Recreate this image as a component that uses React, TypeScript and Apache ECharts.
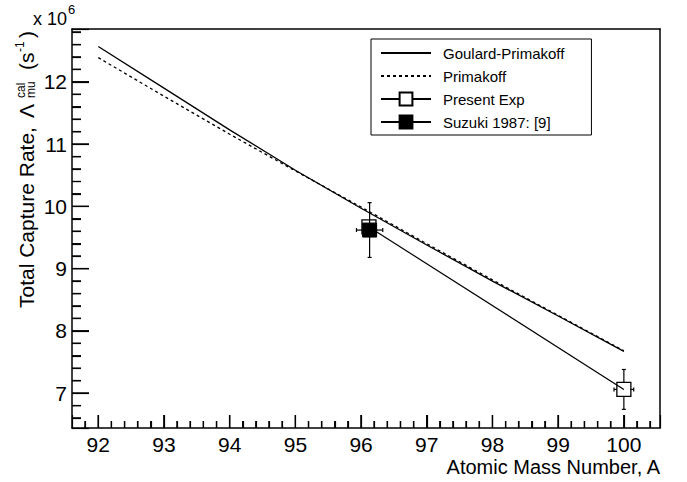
import React, { useEffect, useRef } from "react";
import * as echarts from "echarts";

const massNumbers = [92, 93, 94, 95, 96, 97, 98, 99, 100];
const goulardPrimakoff = [12.57, 11.9, 11.23, 10.58, 9.97, 9.38, 8.8, 8.24, 7.67];
const primakoff = [12.39, 11.77, 11.16, 10.57, 9.99, 9.4, 8.82, 8.25, 7.68];

const presentExpA = [96.12, 100];
const presentExpRate = [9.67, 7.06];
const presentExpErrA = [0, 0.15];
const presentExpErrRate = [0, 0.32];

const suzukiA = [96.13];
const suzukiRate = [9.62];
const suzukiErrA = [0.2];
const suzukiErrRate = [0.44];

const xMin = 91.6;
const xMax = 100.55;
const yMin = 6.44;
const yMax = 12.85;
const xMajorTicks = [91, 92, 93, 94, 95, 96, 97, 98, 99, 100, 101];
const yMajorTicks = [6, 7, 8, 9, 10, 11, 12, 13];
const minorDivisions = 5;

const FONT = "'Liberation Sans', Arial, Helvetica, sans-serif";
const MARK = 14;
const GRID = { left: 72, top: 29, right: 27, bottom: 54 };
const W = 687;
const H = 482;

const isInt = (v: number) => Math.abs(v - Math.round(v)) < 1e-6;

export default function App() {
  const ref = useRef<HTMLDivElement>(null);

  useEffect(() => {
    if (!ref.current) return;
    const chart = echarts.init(ref.current, null, { renderer: "svg" });

    const gpData = massNumbers.map((a, i) => [a, goulardPrimakoff[i]]);
    const pData = massNumbers.map((a, i) => [a, primakoff[i]]);
    const expData = presentExpA.map((a, i) => [a, presentExpRate[i]]);
    const suzData = suzukiA.map((a, i) => [a, suzukiRate[i]]);

    const errData = [
      ...presentExpA.map((a, i) => [a, presentExpRate[i], presentExpErrA[i], presentExpErrRate[i]]),
      ...suzukiA.map((a, i) => [a, suzukiRate[i], suzukiErrA[i], suzukiErrRate[i]]),
    ].filter((d) => d[2] > 0 || d[3] > 0);

    const tickList = (majors: number[], lo: number, hi: number) => {
      const out: { v: number; major: boolean }[] = [];
      majors.forEach((m) => {
        for (let k = 0; k < minorDivisions; k++) {
          const v = m + k / minorDivisions;
          if (v > lo + 1e-6 && v < hi - 1e-6) out.push({ v, major: k === 0 });
        }
      });
      return out;
    };
    const xTicks = tickList(xMajorTicks, xMin, xMax);
    const yTicks = tickList(yMajorTicks, yMin, yMax);

    const plotW = W - GRID.left - GRID.right;
    const plotH = H - GRID.top - GRID.bottom;
    const yPerPx = (yMax - yMin) / plotH;
    const xPerPx = (xMax - xMin) / plotW;

    const xTickSegs: any[] = [];
    xTicks.forEach((t) => {
      const len = (t.major ? 13 : 7) * yPerPx;
      xTickSegs.push([t.v, yMin], [t.v, yMin + len], [t.v, "-"]);
    });
    const yTickSegs: any[] = [];
    yTicks.forEach((t) => {
      const len = (t.major ? 17 : 9) * xPerPx;
      yTickSegs.push([xMin, t.v], [xMin + len, t.v], ["-", t.v]);
    });

    const half = MARK / 2;
    const cap = 2;

    const frameAxisCommon = {
      axisTick: { show: false },
      minorTick: { show: false },
      axisLabel: { show: false },
      splitLine: { show: false },
      minorSplitLine: { show: false },
      axisLine: { show: true, onZero: false, lineStyle: { color: "#000", width: 1.5 } },
    };

    const titleGraphics: any[] = [
      {
        type: "text",
        x: 33,
        y: 19,
        style: { text: "x 10", fontSize: 18, fontFamily: FONT, fill: "#000", verticalAlign: "middle", align: "left" },
      },
      {
        type: "text",
        x: 68,
        y: 9,
        style: { text: "6", fontSize: 13, fontFamily: FONT, fill: "#000", verticalAlign: "middle", align: "left" },
      },
      {
        type: "text",
        x: 660,
        y: 467,
        style: {
          text: "Atomic Mass Number, A",
          fontSize: 20,
          fontFamily: FONT,
          fill: "#000",
          verticalAlign: "middle",
          align: "right",
        },
      },
      {
        type: "group",
        x: 26,
        y: 308,
        rotation: Math.PI / 2,
        children: [
          { type: "text", x: 0, y: 0, style: { text: "Total Capture Rate,", fontSize: 21, fontFamily: FONT, fill: "#000", verticalAlign: "middle", align: "left" } },
          { type: "text", x: 190, y: 0, style: { text: "Λ", fontSize: 21, fontFamily: FONT, fill: "#000", verticalAlign: "middle", align: "left" } },
          { type: "text", x: 210, y: -5, style: { text: "cal", fontSize: 12, fontFamily: FONT, fill: "#000", verticalAlign: "middle", align: "left" } },
          { type: "text", x: 210, y: 5, style: { text: "mu", fontSize: 12, fontFamily: FONT, fill: "#000", verticalAlign: "middle", align: "left" } },
          { type: "text", x: 238, y: 0, style: { text: "(s", fontSize: 21, fontFamily: FONT, fill: "#000", verticalAlign: "middle", align: "left" } },
          { type: "text", x: 256, y: -6, style: { text: "-1", fontSize: 12, fontFamily: FONT, fill: "#000", verticalAlign: "middle", align: "left" } },
          { type: "text", x: 270, y: 0, style: { text: ")", fontSize: 21, fontFamily: FONT, fill: "#000", verticalAlign: "middle", align: "left" } },
        ],
      },
    ];

    const option: any = {
      animation: false,
      backgroundColor: "#fff",
      textStyle: { fontFamily: FONT },
      grid: { ...GRID, show: false },
      xAxis: [
        {
          type: "value",
          min: xMin,
          max: xMax,
          minInterval: 1,
          maxInterval: 1,
          splitNumber: 9,
          axisLine: { show: true, onZero: false, lineStyle: { color: "#000", width: 1.5 } },
          axisTick: { show: true, inside: true, length: 13, lineStyle: { color: "#000", width: 1.2 } },
          minorTick: { show: true, splitNumber: 5, length: 7, lineStyle: { color: "#000", width: 1.2 } },
          splitLine: { show: false },
          minorSplitLine: { show: false },
          axisLabel: {
            color: "#000",
            fontSize: 21,
            fontFamily: FONT,
            margin: 6,
            formatter: (v: number) => (isInt(v) ? String(Math.round(v)) : ""),
          },
        },
        { type: "value", position: "top", min: xMin, max: xMax, ...frameAxisCommon },
      ],
      yAxis: [
        {
          type: "value",
          min: yMin,
          max: yMax,
          minInterval: 1,
          maxInterval: 1,
          splitNumber: 6,
          axisLine: { show: true, onZero: false, lineStyle: { color: "#000", width: 1.5 } },
          axisTick: { show: true, inside: true, length: 17, lineStyle: { color: "#000", width: 1.2 } },
          minorTick: { show: true, splitNumber: 5, length: 9, lineStyle: { color: "#000", width: 1.2 } },
          splitLine: { show: false },
          minorSplitLine: { show: false },
          axisLabel: {
            color: "#000",
            fontSize: 21,
            fontFamily: FONT,
            margin: 5,
            formatter: (v: number) => (isInt(v) ? String(Math.round(v)) : ""),
          },
        },
        { type: "value", position: "right", min: yMin, max: yMax, ...frameAxisCommon },
      ],
      legend: {
        orient: "vertical",
        left: 371,
        top: 39,
        padding: [6, 27, 5, 9],
        itemWidth: 50,
        itemHeight: 16,
        itemGap: 7,
        borderColor: "#000",
        borderWidth: 1,
        backgroundColor: "#fff",
        textStyle: { color: "#000", fontSize: 15, fontFamily: FONT, lineHeight: 16, padding: [0, 0, 0, 7] },
        data: [
          { name: "Goulard-Primakoff", itemStyle: { color: "rgba(0,0,0,0)", borderWidth: 0 } },
          { name: "Primakoff", itemStyle: { color: "rgba(0,0,0,0)", borderWidth: 0 } },
          { name: "Present Exp", itemStyle: { color: "#fff" } },
          { name: "Suzuki 1987: [9]" },
        ],
      },
      series: [
        {
          name: "x-ticks",
          type: "line",
          data: xTickSegs,
          symbol: "none",
          connectNulls: false,
          clip: false,
          silent: true,
          lineStyle: { color: "#000", width: 1.2 },
          z: 5,
        },
        {
          name: "y-ticks",
          type: "line",
          data: yTickSegs,
          symbol: "none",
          connectNulls: false,
          clip: false,
          silent: true,
          lineStyle: { color: "#000", width: 1.2 },
          z: 5,
        },
        {
          name: "Goulard-Primakoff",
          type: "line",
          data: gpData,
          symbol: "none",
          lineStyle: { color: "#000", width: 1.3 },
          itemStyle: { color: "#000" },
          z: 2,
        },
        {
          name: "Primakoff",
          type: "line",
          data: pData,
          symbol: "none",
          lineStyle: { color: "#000", width: 1.3, type: [3, 3] },
          itemStyle: { color: "#000" },
          z: 2,
        },
        {
          name: "Present Exp",
          type: "line",
          data: expData,
          symbol: "rect",
          symbolSize: MARK,
          showSymbol: true,
          lineStyle: { color: "#000", width: 1.2 },
          itemStyle: { color: "rgba(255,255,255,0)", borderColor: "#000", borderWidth: 1.3 },
          z: 3,
        },
        {
          name: "Suzuki 1987: [9]",
          type: "line",
          data: suzData,
          symbol: "rect",
          symbolSize: MARK,
          showSymbol: true,
          lineStyle: { color: "#000", width: 1.2 },
          itemStyle: { color: "#000", borderColor: "#000", borderWidth: 1 },
          z: 4,
        },
        {
          name: "errors",
          type: "custom",
          data: errData,
          z: 3,
          renderItem: (params: any, api: any) => {
            const x = api.value(0);
            const y = api.value(1);
            const ex = api.value(2);
            const ey = api.value(3);
            const c = api.coord([x, y]);
            const top = api.coord([x, y + ey])[1];
            const bot = api.coord([x, y - ey])[1];
            const left = api.coord([x - ex, y])[0];
            const right = api.coord([x + ex, y])[0];
            const st = { stroke: "#000", lineWidth: 1.2 };
            const children: any[] = [];
            if (ey > 0) {
              children.push(
                { type: "line", shape: { x1: c[0], y1: c[1] - half, x2: c[0], y2: top }, style: st },
                { type: "line", shape: { x1: c[0], y1: c[1] + half, x2: c[0], y2: bot }, style: st },
                { type: "line", shape: { x1: c[0] - cap, y1: top, x2: c[0] + cap, y2: top }, style: st },
                { type: "line", shape: { x1: c[0] - cap, y1: bot, x2: c[0] + cap, y2: bot }, style: st }
              );
            }
            if (ex > 0) {
              children.push(
                { type: "line", shape: { x1: c[0] - half, y1: c[1], x2: left, y2: c[1] }, style: st },
                { type: "line", shape: { x1: c[0] + half, y1: c[1], x2: right, y2: c[1] }, style: st },
                { type: "line", shape: { x1: left, y1: c[1] - cap, x2: left, y2: c[1] + cap }, style: st },
                { type: "line", shape: { x1: right, y1: c[1] - cap, x2: right, y2: c[1] + cap }, style: st }
              );
            }
            return { type: "group", children };
          },
        },
      ],
      graphic: titleGraphics,
    };

    chart.setOption(option);

    // Extra tick layer placed through the chart's own scale conversion
    try {
      const toPx = (v: number[]) => {
        const p = chart.convertToPixel({ xAxisIndex: 0, yAxisIndex: 0 }, v) as any;
        if (p && isFinite(p[0]) && isFinite(p[1])) return p as number[];
        return [
          GRID.left + ((v[0] - xMin) / (xMax - xMin)) * plotW,
          H - GRID.bottom - ((v[1] - yMin) / (yMax - yMin)) * plotH,
        ];
      };
      const st = { stroke: "#000", lineWidth: 1.2 };
      const tickGraphics: any[] = [];
      xTicks.forEach((t) => {
        const p = toPx([t.v, yMin]);
        const len = t.major ? 13 : 7;
        tickGraphics.push({ type: "line", z: 10, silent: true, shape: { x1: p[0], y1: p[1], x2: p[0], y2: p[1] - len }, style: st });
      });
      yTicks.forEach((t) => {
        const p = toPx([xMin, t.v]);
        const len = t.major ? 17 : 9;
        tickGraphics.push({ type: "line", z: 10, silent: true, shape: { x1: p[0], y1: p[1], x2: p[0] + len, y2: p[1] }, style: st });
      });
      chart.setOption({ graphic: [...titleGraphics, ...tickGraphics] });
    } catch (e) {
      // keep the chart as drawn
    }

    return () => chart.dispose();
  }, []);

  return (
    <div
      ref={ref}
      style={{ position: "fixed", left: 0, top: 0, width: W, height: H, background: "#fff" }}
    />
  );
}
